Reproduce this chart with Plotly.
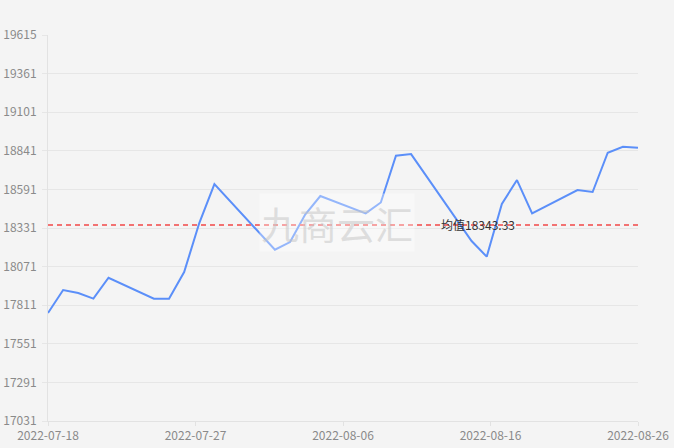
import plotly.graph_objects as go

dates = [
    "2022-07-18", "2022-07-19", "2022-07-20", "2022-07-21", "2022-07-22",
    "2022-07-25", "2022-07-26", "2022-07-27", "2022-07-28", "2022-07-29",
    "2022-08-02", "2022-08-03", "2022-08-04", "2022-08-05",
    "2022-08-08", "2022-08-09", "2022-08-10", "2022-08-11",
    "2022-08-15", "2022-08-16", "2022-08-17", "2022-08-18", "2022-08-19",
    "2022-08-22", "2022-08-23", "2022-08-24", "2022-08-25", "2022-08-26",
]
prices = [
    17754, 17908, 17888, 17850, 17990,
    17850, 17850, 18028, 18356, 18617,
    18178, 18229, 18413, 18537,
    18421, 18494, 18807, 18818,
    18236, 18131, 18484, 18644, 18421,
    18577, 18564, 18827, 18867, 18860,
]
mean_value = 18343.33
mean_label = "均值18343.33"

y_min, y_max = 17031, 19615
y_tick_labels = ["17031", "17291", "17551", "17811", "18071", "18331",
                 "18591", "18841", "19101", "19361", "19615"]
x_tick_vals = ["2022-07-18 00:00", "2022-07-27 18:00", "2022-08-06 12:00",
               "2022-08-16 06:00", "2022-08-26 00:00"]
x_tick_labels = ["2022-07-18", "2022-07-27", "2022-08-06", "2022-08-16", "2022-08-26"]

step = (y_max - y_min) / (len(y_tick_labels) - 1)
y_tick_vals = [y_min + i * step for i in range(len(y_tick_labels))]

font_family = "Noto Sans CJK SC, Noto Sans, sans-serif"

fig = go.Figure()
fig.add_trace(go.Scatter(
    x=dates, y=prices, mode="lines",
    line=dict(color="#5b8ff9", width=2),
    hoverinfo="x+y", showlegend=False,
))

fig.add_shape(type="line", xref="paper", x0=0, x1=1, yref="y",
              y0=mean_value, y1=mean_value,
              line=dict(color="#f27272", width=2, dash="5px,4px"), layer="above")

fig.add_annotation(x=0.729, xref="paper", y=mean_value, yref="y",
                   text=mean_label, showarrow=False,
                   font=dict(family=font_family, size=12, color="#333333"),
                   xanchor="center", yanchor="middle")

fig.add_annotation(x=0.489, xref="paper", y=0.515, yref="paper",
                   text="九商云汇", showarrow=False,
                   font=dict(family=font_family, size=38, color="rgba(195,195,195,0.5)"),
                   bgcolor="rgba(255,255,255,0.35)", borderpad=1,
                   xanchor="center", yanchor="middle")

fig.update_layout(
    width=674, height=448,
    margin=dict(l=48, r=36, t=35, b=27),
    paper_bgcolor="#f4f4f4", plot_bgcolor="#f4f4f4",
    font=dict(family=font_family, size=12, color="#8a8a8a"),
    xaxis=dict(
        type="date", range=["2022-07-18", "2022-08-26"],
        tickvals=x_tick_vals, ticktext=x_tick_labels,
        showgrid=False, showline=True, linecolor="#e2e2e2", linewidth=1,
        ticks="outside", ticklen=4, tickcolor="#e2e2e2",
        tickfont=dict(size=12, color="#8a8a8a"), zeroline=False,
        automargin=False,
    ),
    yaxis=dict(
        range=[y_min, y_max], tickvals=y_tick_vals, ticktext=y_tick_labels,
        showgrid=True, gridcolor="#e6e6e6", gridwidth=1,
        showline=True, linecolor="#e2e2e2", linewidth=1,
        ticks="outside", ticklen=5, tickcolor="#e6e6e6",
        tickfont=dict(size=12, color="#8a8a8a"), zeroline=False,
        automargin=False, ticklabelstandoff=3,
    ),
)

fig.write_html("out.html", config={"displayModeBar": False},
               post_script="document.body.style.margin='0';")
